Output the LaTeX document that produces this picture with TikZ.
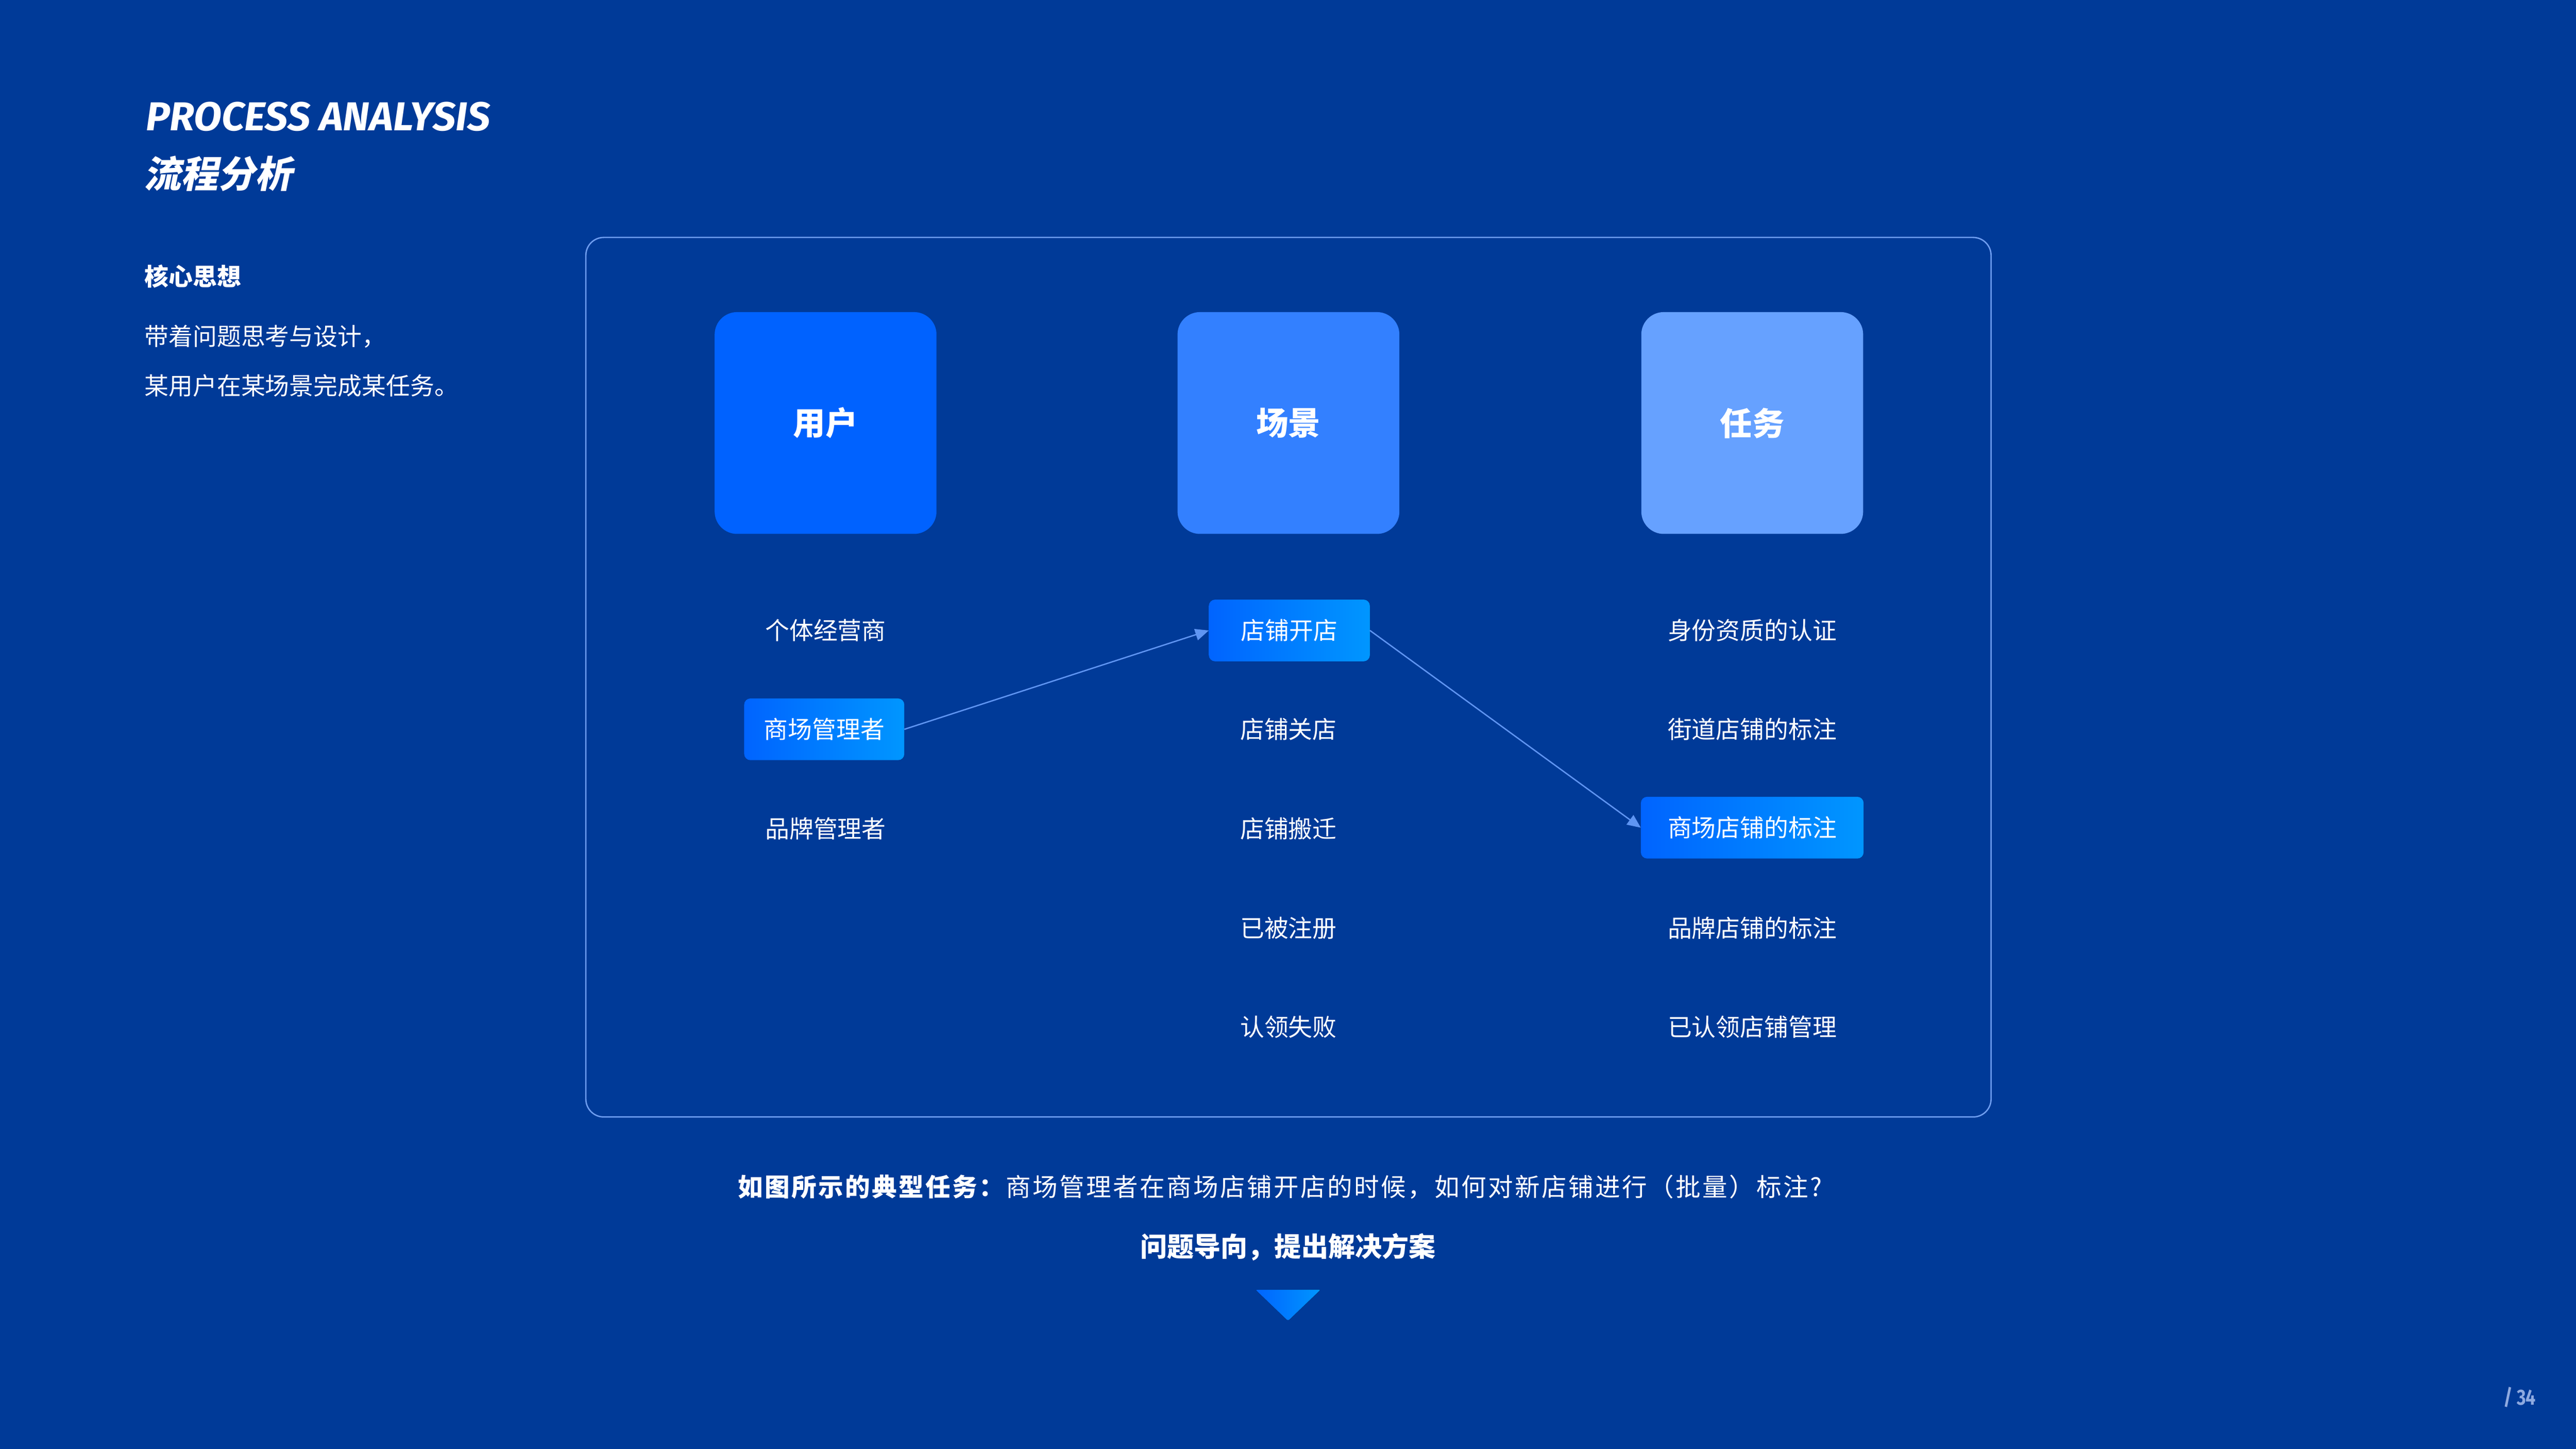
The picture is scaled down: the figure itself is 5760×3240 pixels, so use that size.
\documentclass[tikz,border=0pt]{standalone}
\usepackage{fontspec}
\usepackage{graphicx}
\setmainfont{Noto Sans CJK SC}
\newfontfamily\cjkslant{Noto Sans CJK SC}[FakeSlant=0.2]
\newfontfamily\latinfont{Fira Sans}
\usetikzlibrary{arrows.meta}
\definecolor{bgc}{HTML}{003A98}
\definecolor{framec}{HTML}{6F9EF0}
\definecolor{boxA}{HTML}{0062FF}
\definecolor{boxB}{HTML}{3380FF}
\definecolor{boxC}{HTML}{66A1FF}
\definecolor{hlL}{HTML}{0064FF}
\definecolor{hlR}{HTML}{0096FF}
\definecolor{arrowc}{HTML}{5F95F2}
\definecolor{pagec}{HTML}{8EAAE0}
\tikzset{
  bigbox/.style={rounded corners=50pt, minimum width=496pt, minimum height=496pt,
    inner sep=0pt, text=white, font=\fontsize{72pt}{80pt}\selectfont\bfseries},
  item/.style={inner sep=0pt, text=white, font=\fontsize{54pt}{60pt}\selectfont},
  hlbox/.style={rounded corners=14pt, left color=hlL, right color=hlR,
    minimum height=138pt, inner sep=0pt, text=white, font=\fontsize{54pt}{60pt}\selectfont},
  lefttext/.style={anchor=west, inner sep=0pt, text=white, font=\fontsize{54pt}{60pt}\selectfont},
  conn/.style={draw=arrowc, line width=3pt, -{Triangle[length=30pt,width=26pt]}},
}
\begin{document}
\begin{tikzpicture}[x=1pt,y=-1pt]
\fill[bgc] (0,0) rectangle (5760,3240);
\useasboundingbox (0,0) rectangle (5760,3240);

% title
\node[anchor=north west, inner sep=0pt, text=white] (title) at (326,228)
  {\resizebox{770pt}{64pt}{\latinfont\bfseries\itshape PROCESS ANALYSIS}};
\node[anchor=west, inner sep=0pt, text=white] (titlecn) at (322,388)
  {\fontsize{83pt}{88pt}\selectfont\cjkslant\bfseries 流程分析};

% left description
\node[lefttext, font=\fontsize{54pt}{60pt}\selectfont\bfseries] (core) at (323,618) {核心思想};
\node[lefttext] (desc1) at (323,753) {带着问题思考与设计，};
\node[lefttext] (desc2) at (323,862) {某用户在某场景完成某任务。};

% frame
\draw[framec, line width=3pt, rounded corners=40pt] (1310,531) rectangle (4452,2498);

% header boxes
\node[bigbox, fill=boxA] (user) at (1846,946) {用户};
\node[bigbox, fill=boxB] (scene) at (2881,946) {场景};
\node[bigbox, fill=boxC] (task) at (3918,946) {任务};

% user column
\node[item] (u1) at (1846,1410) {个体经营商};
\node[hlbox, minimum width=358pt] (u2) at (1843,1631) {商场管理者};
\node[item] (u3) at (1846,1853) {品牌管理者};

% scene column
\node[hlbox, minimum width=360pt] (s1) at (2883,1410) {店铺开店};
\node[item] (s2) at (2881,1631) {店铺关店};
\node[item] (s3) at (2881,1853) {店铺搬迁};
\node[item] (s4) at (2881,2075) {已被注册};
\node[item] (s5) at (2881,2297) {认领失败};

% task column
\node[item] (t1) at (3918,1410) {身份资质的认证};
\node[item] (t2) at (3918,1631) {街道店铺的标注};
\node[hlbox, minimum width=498pt] (t3) at (3918,1851) {商场店铺的标注};
\node[item] (t4) at (3918,2075) {品牌店铺的标注};
\node[item] (t5) at (3918,2297) {已认领店铺管理};

% connectors
\draw[conn] (u2.east) -- (s1.west);
\draw[conn] (s1.east) -- (t3.west);

% bottom text
\node[anchor=west, inner sep=0pt, text=white] (q1) at (1650,2654)
  {\fontsize{56pt}{60pt}\selectfont\addfontfeatures{LetterSpace=7}\textbf{如图所示的典型任务：}商场管理者在商场店铺开店的时候，如何对新店铺进行（批量）标注?};
\node[inner sep=0pt, text=white] (q2) at (2880,2789)
  {\fontsize{60pt}{66pt}\selectfont\bfseries 问题导向，提出解决方案};

% down triangle
\fill[left color=hlL, right color=hlR, rounded corners=4pt]
  (2807,2884) -- (2953,2884) -- (2880,2954) -- cycle;

% page number
\node[anchor=south west, inner sep=0pt, text=pagec] (page) at (5598,3148)
  {\resizebox{72pt}{40pt}{\latinfont\bfseries / 34}};
\end{tikzpicture}
\end{document}
